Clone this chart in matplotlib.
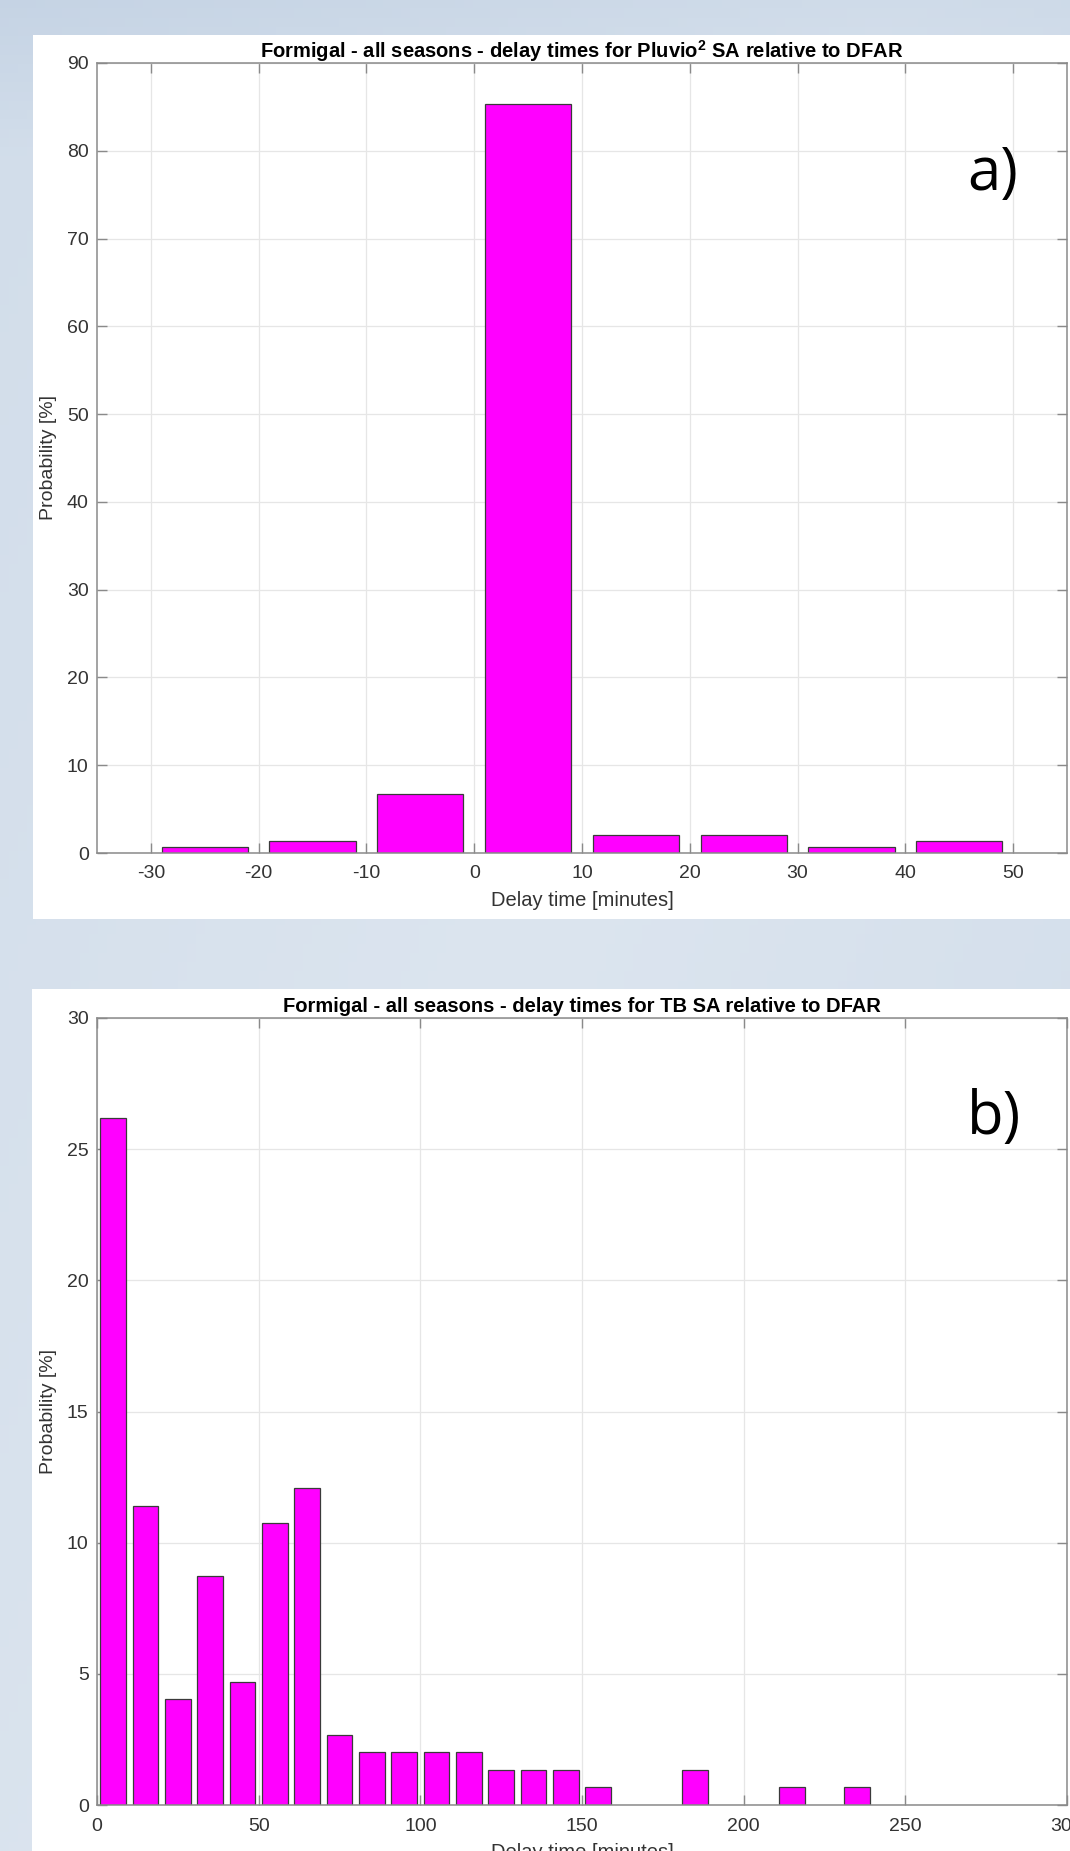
import numpy as np
import matplotlib.pyplot as plt
from matplotlib.patches import Rectangle

W, H = 1070, 1851
DPI = 100

# a) Pluvio2 SA delay relative to DFAR (bin centres in minutes, probability in %)
bins_a = [-25, -15, -5, 5, 15, 25, 35, 45]
prob_a = [0.67, 1.33, 6.67, 85.33, 2.0, 2.0, 0.67, 1.33]
xticks_a = [-30, -20, -10, 0, 10, 20, 30, 40, 50]
yticks_a = [0, 10, 20, 30, 40, 50, 60, 70, 80, 90]

# b) TB SA delay relative to DFAR
bins_b = [5, 15, 25, 35, 45, 55, 65, 75, 85, 95, 105, 115, 125, 135, 145, 155,
          185, 215, 235]
prob_b = [26.17, 11.41, 4.03, 8.72, 4.70, 10.74, 12.08, 2.68, 2.01, 2.01, 2.01,
          2.01, 1.34, 1.34, 1.34, 0.67, 1.34, 0.67, 0.67]
xticks_b = [0, 50, 100, 150, 200, 250, 300]
yticks_b = [0, 5, 10, 15, 20, 25, 30]

title_a = r'Formigal - all seasons - delay times for Pluvio$^{\mathbf{2}}$ SA relative to DFAR'
title_b = 'Formigal - all seasons - delay times for TB SA relative to DFAR'

plt.rcParams['font.family'] = ['Liberation Sans', 'DejaVu Sans']
plt.rcParams['mathtext.fontset'] = 'custom'
plt.rcParams['mathtext.rm'] = 'Liberation Sans'
plt.rcParams['mathtext.bf'] = 'Liberation Sans:bold'
plt.rcParams['axes.unicode_minus'] = False


def fbox(x0, y0, x1, y1):
    # pixel box (top-left origin) -> figure fraction [l, b, w, h]
    return [x0 / W, 1 - y1 / H, (x1 - x0) / W, (y1 - y0) / H]


fig = plt.figure(figsize=(W / DPI, H / DPI), dpi=DPI)

# slide-like background
bg = fig.add_axes([0, 0, 1, 1], zorder=-5)
yy, xx = np.mgrid[0:1:200j, 0:1:120j]
d = np.abs((xx * 0.6 + (1 - yy) * 0.4) - 0.5) * 2
top = np.clip(1 - (1 - yy) * 12, 0, 1)
shade = 0.35 * d + 0.4 * top
c_light = np.array([220, 229, 239]) / 255
c_dark = np.array([190, 206, 225]) / 255
grad = c_light[None, None, :] * (1 - shade[..., None]) + c_dark[None, None, :] * shade[..., None]
bg.imshow(grad, extent=[0, 1, 0, 1], aspect='auto', origin='lower')
bg.set_xlim(0, 1)
bg.set_ylim(0, 1)
bg.axis('off')
for box in [(33, 35, 1070, 919), (32, 989, 1070, 1860)]:
    l, b, w, h = fbox(*box)
    bg.add_patch(Rectangle((l, b), w, h, facecolor='white', edgecolor='none'))


def style(ax, xticks, yticks, xlim, ylim, title):
    ax.set_xlim(*xlim)
    ax.set_ylim(*ylim)
    ax.set_xticks(xticks)
    ax.set_yticks(yticks)
    ax.set_axisbelow(True)
    ax.grid(True, color='#e6e6e6', linewidth=0.9)
    ax.tick_params(direction='in', top=True, right=True, length=7, width=1,
                   color='#8a8a8a', labelcolor='#333333', labelsize=14)
    ax.tick_params(axis='x', pad=9)
    ax.tick_params(axis='y', pad=6)
    for s in ax.spines.values():
        s.set_color('#8a8a8a')
        s.set_linewidth(1.1)
    ax.set_xlabel('Delay time [minutes]', fontsize=14.5, color='#333333', labelpad=6)
    ax.set_ylabel('Probability [%]', fontsize=14, color='#333333', labelpad=7)
    ax.set_title(title, fontsize=14.5, fontweight='bold', pad=4, color='black')


ax_a = fig.add_axes(fbox(97, 63, 1067, 853))
ax_a.bar(bins_a, prob_a, width=8, color='#ff00ff', edgecolor='#3a3a3a', linewidth=0.9)
style(ax_a, xticks_a, yticks_a, (-35, 55), (0, 90), title_a)

ax_b = fig.add_axes(fbox(97, 1018, 1067, 1805))
ax_b.bar(bins_b, prob_b, width=8, color='#ff00ff', edgecolor='#3a3a3a', linewidth=0.9)
style(ax_b, xticks_b, yticks_b, (0, 300), (0, 30), title_b)

fig.text(967 / W, 1 - 190 / H, 'a)', fontsize=43, family=['Open Sans', 'DejaVu Sans'],
         color='black', ha='left', va='baseline')
fig.text(967 / W, 1 - 1134 / H, 'b)', fontsize=43, family=['Open Sans', 'DejaVu Sans'],
         color='black', ha='left', va='baseline')

fig.savefig('out.png', dpi=DPI)
